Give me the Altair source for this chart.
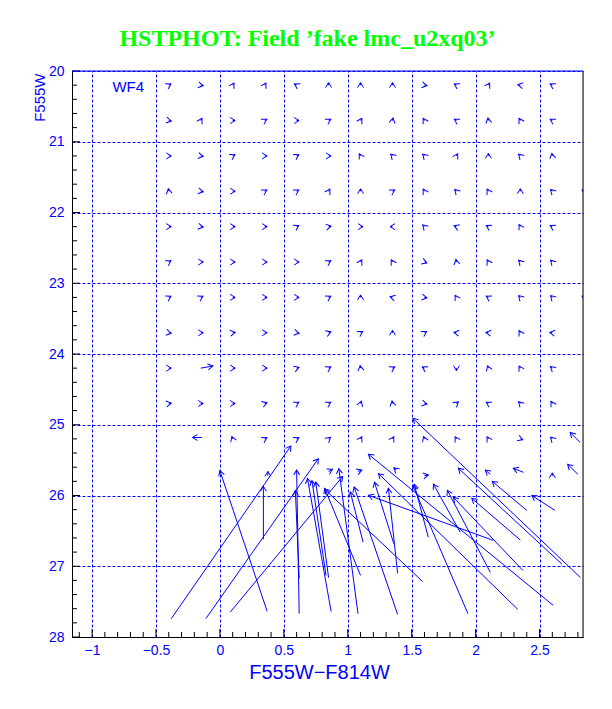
import math
import numpy as np
import pandas as pd
import altair as alt

# ---------------- data ----------------
X_DOMAIN = [-1.157, 2.84]
Y_DOMAIN = [20, 28]
W, H = 511, 566
BLUE = "#0000ff"

# input grid of fake stars
COL_X = [-0.4, -0.15, 0.1, 0.35, 0.6, 0.85, 1.1, 1.35, 1.6, 1.85, 2.1, 2.35, 2.6, 2.85]
ROW_Y = [20.2, 20.7, 21.2, 21.7, 22.2, 22.7, 23.2, 23.7, 24.2, 24.7, 25.2]
# direction of each small offset vector (screen degrees: 0 right, -90 up); None = none drawn
SMALL_DIR = [
    [-30, 10, -60, -60, -150, -90, -90, -90, 10, -150, -60, 190, -150, None],
    [10, -60, 0, -30, 0, -30, -60, -80, -120, -150, -100, -120, -150, None],
    [0, 10, -30, 0, -30, 0, -120, -135, -135, -60, -90, -135, -100, None],
    [-100, 10, 0, -30, -30, -60, -90, -30, -120, -135, -120, -90, -135, -150],
    [0, 10, 0, 0, -30, -10, 0, 180, -135, 200, -150, -120, -150, None],
    [-30, 0, 0, 0, 0, -30, -60, -120, 20, -100, -120, -135, -135, None],
    [-30, -30, 0, 0, 0, -30, -90, -165, 10, -120, -150, -135, -135, -150],
    [10, 0, -10, 0, 10, -20, -30, -90, -30, 190, 190, -120, 190, None],
    [0, None, 0, 0, -20, -30, -100, -30, -150, 90, -110, -120, -140, None],
    [-10, 0, 0, -20, -30, -30, -70, -100, 10, -40, -150, -135, -120, None],
    [None, None, -110, -30, -30, -40, -60, -60, -110, -120, -120, 20, -135, None],
]

# longer vectors: input (x1, y1) -> measured (x2, y2)
LONG_X1 = [-0.15, -0.14, 2.818, 0.37, -0.38, -0.11, 0.08, 0.34, 0.62, 0.62, 0.87, 0.83, 0.85, 1.10, 1.08, 1.12, 1.39,
           2.82, 1.94, 2.33, 2.607, 2.115, 2.37, 2.677, 2.138, 2.35, 2.40, 2.62, 1.584, 1.63, 1.88,
           0.375, 0.85, 1.08, 1.38, 2.373, 2.80, 2.60, 2.115, 1.39, 1.36, 1.60]
LONG_Y1 = [24.2, 25.18, 25.25, 27.64, 27.74, 27.74, 27.65, 26.62, 27.67, 27.17, 27.64, 27.13, 27.16, 27.13, 27.67, 26.66, 27.68,
           27.16, 27.67, 27.61, 27.553, 27.086, 27.06, 26.973, 26.634, 26.63, 26.21, 26.21, 27.214, 26.59, 26.52,
           25.72, 25.66, 25.66, 25.64, 25.672, 25.70, 25.72, 25.70, 27.10, 26.68, 25.72]
LONG_X2 = [-0.055, -0.215, 2.74, 0.0, 0.555, 0.77, 0.96, 0.34, 0.60, 0.59, 0.685, 0.72, 0.75, 0.82, 0.93, 1.02, 1.05,
           1.51, 1.51, 1.24, 1.162, 1.779, 1.826, 1.865, 1.162, 1.97, 2.13, 2.44, 0.818, 1.52, 1.67,
           0.375, 0.88, 1.11, 1.36, 2.295, 2.72, 2.60, 2.076, 1.318, 1.209, 1.63]
LONG_Y2 = [24.17, 25.18, 25.11, 25.65, 25.30, 25.48, 25.73, 25.87, 25.64, 25.93, 25.76, 25.79, 25.81, 25.90, 25.62, 25.95, 25.88,
           24.91, 25.86, 25.69, 25.417, 25.926, 26.025, 25.615, 25.997, 26.04, 25.80, 26.00, 25.91, 25.84, 25.84,
           25.66, 25.63, 25.64, 25.61, 25.615, 25.56, 25.68, 25.64, 25.898, 25.813, 25.71]

LABEL_TEXT = ["WF4"]
LABEL_X = [-0.717]
LABEL_Y = [20.233]

X_LABELS = [-1, -0.5, 0, 0.5, 1, 1.5, 2, 2.5]
Y_LABELS = [20, 21, 22, 23, 24, 25, 26, 27, 28]

# ---------------- build tables ----------------
px_x = W / (X_DOMAIN[1] - X_DOMAIN[0])
px_y = H / (Y_DOMAIN[1] - Y_DOMAIN[0])

recs = []
for yv, dirs in zip(ROW_Y, SMALL_DIR):
    for xv, d in zip(COL_X, dirs):
        if d is None:
            continue
        a = math.radians(d)
        recs.append(dict(x1=xv, y1=yv, x2=xv + 2.5 * math.cos(a) / px_x, y2=yv + 2.5 * math.sin(a) / px_y))
for a, b, c, d in zip(LONG_X1, LONG_Y1, LONG_X2, LONG_Y2):
    recs.append(dict(x1=a, y1=b, x2=c, y2=d))
vec = pd.DataFrame(recs)
vec["ang"] = np.degrees(np.arctan2((vec.y2 - vec.y1) * px_y, (vec.x2 - vec.x1) * px_x)) % 360

x_major = [v for v in X_LABELS]
x_minor = [round(-1.1 + 0.1 * i, 1) for i in range(40)]
x_minor = [v for v in x_minor if abs(v * 2 - round(v * 2)) > 1e-6]
y_major = Y_LABELS
y_minor = [round(20 + 0.2 * i, 1) for i in range(41)]
y_minor = [v for v in y_minor if abs(v - round(v)) > 1e-6]

xs = alt.Scale(domain=X_DOMAIN, nice=False, zero=False)
ys = alt.Scale(domain=Y_DOMAIN, nice=False, zero=False, reverse=True)

FONT = "Liberation Sans"

x_axis = alt.Axis(values=X_LABELS, format="~g", grid=True, gridColor=BLUE, gridDash=[3, 2], gridWidth=1,
                  gridOpacity=1, ticks=False, tickSize=0, domainColor="black", domainWidth=1,
                  labelColor=BLUE, labelFont=FONT, labelFontSize=14, labelPadding=6,
                  title="F555W\u2212F814W", titleColor=BLUE, titleFont=FONT, titleFontSize=20,
                  titleFontWeight="normal", titleX=247, titleY=41, titleBaseline="alphabetic",
                  titleAlign="center")
y_axis = alt.Axis(values=Y_LABELS, format="d", grid=True, gridColor=BLUE, gridDash=[3, 2], gridWidth=1,
                  gridOpacity=1, ticks=False, tickSize=0, domainColor="black", domainWidth=1,
                  labelColor=BLUE, labelFont=FONT, labelFontSize=14, labelPadding=8,
                  title="F555W", titleColor=BLUE, titleFont=FONT, titleFontSize=15,
                  titleFontWeight="normal", titleX=-28, titleY=2, titleAngle=-90,
                  titleAlign="right", titleBaseline="alphabetic")

shafts = alt.Chart(vec).mark_rule(color=BLUE, strokeWidth=1, clip=True).encode(
    x=alt.X("x1:Q", scale=xs, axis=x_axis),
    y=alt.Y("y1:Q", scale=ys, axis=y_axis),
    x2="x2:Q", y2="y2:Q",
)
heads = alt.Chart(vec).mark_point(
    shape="M-1,-0.6L0,0L-1,0.6", filled=False, size=100, strokeWidth=1, opacity=1, color=BLUE, clip=True
).encode(
    x=alt.X("x2:Q", scale=xs),
    y=alt.Y("y2:Q", scale=ys),
    angle=alt.Angle("ang:Q", scale=None),
)

xt_major = alt.Chart(pd.DataFrame({"v": x_major})).mark_rule(color="black").encode(
    x=alt.X("v:Q", scale=xs), y=alt.value(H), y2=alt.value(H - 8))
xt_minor = alt.Chart(pd.DataFrame({"v": x_minor})).mark_rule(color="black").encode(
    x=alt.X("v:Q", scale=xs), y=alt.value(H), y2=alt.value(H - 5))
yt_major = alt.Chart(pd.DataFrame({"v": y_major})).mark_rule(color="black").encode(
    y=alt.Y("v:Q", scale=ys), x=alt.value(0), x2=alt.value(8))
yt_minor = alt.Chart(pd.DataFrame({"v": y_minor})).mark_rule(color="black").encode(
    y=alt.Y("v:Q", scale=ys), x=alt.value(0), x2=alt.value(5))

top_edge = alt.Chart(pd.DataFrame({"k": [0]})).mark_rule(color=BLUE, strokeWidth=1).encode(
    x=alt.value(0), x2=alt.value(W), y=alt.value(0))
right_edge = alt.Chart(pd.DataFrame({"k": [0]})).mark_rule(color="black", strokeWidth=1).encode(
    x=alt.value(W), y=alt.value(0), y2=alt.value(H))

label = alt.Chart(pd.DataFrame({"t": LABEL_TEXT, "x": LABEL_X, "y": LABEL_Y})).mark_text(
    color=BLUE, font=FONT, fontSize=15, align="center", baseline="middle").encode(
    x=alt.X("x:Q", scale=xs), y=alt.Y("y:Q", scale=ys), text="t:N")

chart = alt.layer(
    shafts, heads, xt_major, xt_minor, yt_major, yt_minor, top_edge, right_edge, label
).properties(
    width=W, height=H,
    autosize=alt.AutoSizeParams(type="none"),
    padding={"left": 64, "top": 63, "right": 21, "bottom": 60},
    title=alt.TitleParams(
        text="HSTPHOT: Field \u2019fake lmc_u2xq03\u2019", font="Liberation Serif", fontSize=24,
        fontWeight="bold", color="#00ff00", anchor="middle", dx=-20, dy=29, offset=23, baseline="alphabetic"),
).configure_view(stroke=None).configure(background="white")

chart.save("out.html", embed_options={"renderer": "svg", "actions": False})
